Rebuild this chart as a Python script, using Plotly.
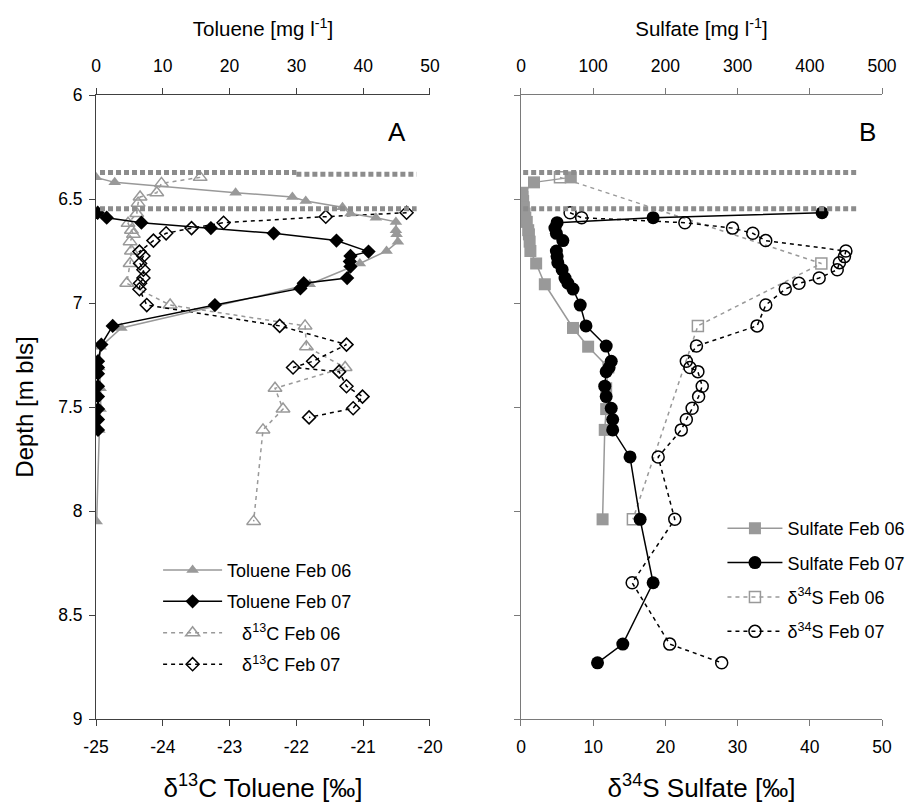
import plotly.graph_objects as go

# ---------------- Data ----------------
# Panel A: toluene concentration (mg/l, top axis) and delta13C (per mil, bottom axis) vs depth (m bls)
tol06_depth = [6.396, 6.42, 6.47, 6.49, 6.51, 6.54, 6.57, 6.59, 6.61, 6.65, 6.67, 6.705, 6.75, 6.81, 6.91,
               7.12, 7.21, 7.31, 7.41, 7.51, 7.61, 8.05]
tol06_conc = [0.0, 2.8, 20.9, 29.4, 31.4, 36.9, 38.1, 41.9, 44.9, 44.9, 45.0, 45.2, 43.5, 39.5, 32.0,
              3.8, 0.7, 0.5, 0.7, 0.7, 0.5, 0.1]

tol07_depth = [6.566, 6.59, 6.614, 6.64, 6.665, 6.70, 6.753, 6.774, 6.80, 6.825, 6.88, 6.905, 6.93, 7.01,
               7.11, 7.20, 7.28, 7.31, 7.34, 7.40, 7.45, 7.51, 7.56, 7.61]
tol07_conc = [0.25, 1.6, 6.8, 17.2, 26.6, 36.0, 40.8, 38.1, 38.0, 38.1, 37.6, 31.1, 30.6, 17.8,
              2.5, 0.8, 0.3, 0.3, 0.3, 0.3, 0.3, 0.3, 0.3, 0.3]

d13c06_depth = [6.396, 6.425, 6.47, 6.49, 6.52, 6.57, 6.617, 6.65, 6.67, 6.705, 6.75, 6.81, 6.905, 7.01,
                7.11, 7.21, 7.31, 7.41, 7.51, 7.61, 8.05]
d13c06_val = [-23.44, -24.02, -24.09, -24.34, -24.37, -24.39, -24.52, -24.47, -24.44, -24.49, -24.47, -24.49,
              -24.54, -23.89, -21.87, -21.85, -21.27, -22.32, -22.20, -22.50, -22.64]

d13c07_depth = [6.566, 6.585, 6.614, 6.64, 6.665, 6.70, 6.753, 6.774, 6.81, 6.84, 6.88, 6.905, 6.934, 7.01,
                7.11, 7.20, 7.28, 7.31, 7.33, 7.40, 7.45, 7.506, 7.55]
d13c07_val = [-20.35, -21.56, -23.09, -23.57, -23.95, -24.14, -24.35, -24.29, -24.34, -24.29, -24.29, -24.34,
              -24.35, -24.24, -22.25, -21.25, -21.75, -22.05, -21.36, -21.25, -21.01, -21.15, -21.81]

# Panel B: sulfate concentration (mg/l, top axis) and delta34S (per mil, bottom axis) vs depth
sul06_depth = [6.396, 6.42, 6.47, 6.49, 6.51, 6.54, 6.57, 6.59, 6.61, 6.65, 6.67, 6.705, 6.75, 6.81, 6.91,
               7.12, 7.21, 7.31, 7.41, 7.51, 7.61, 8.04]
sul06_conc = [69, 18, 2, 2, 3, 4, 5, 6, 8, 10, 11, 12, 13, 21, 33, 72, 93, 121, 118, 118, 116, 113]

d34s06_depth = [6.396, 6.81, 7.11, 8.04]
d34s06_val = [5.4, 41.6, 24.5, 15.5]

feb07_depth = [6.566, 6.59, 6.614, 6.64, 6.665, 6.70, 6.75, 6.777, 6.806, 6.84, 6.88, 6.905, 6.933, 7.01,
               7.11, 7.207, 7.28, 7.31, 7.33, 7.40, 7.45, 7.506, 7.56, 7.61, 7.74, 8.04, 8.345, 8.64, 8.73]
sul07_conc = [417, 183, 50, 47, 49, 58, 49, 50, 51, 57, 61, 65, 72, 82, 90, 118, 125, 122, 118, 116, 118,
              125, 127, 127, 151, 165, 183, 141, 106]
d34s07_val = [6.8, 8.4, 22.7, 29.3, 32.1, 33.9, 45.0, 44.8, 44.1, 43.8, 41.3, 38.5, 36.6, 33.9, 32.7, 24.3,
              22.9, 23.4, 24.5, 25.1, 24.6, 23.7, 22.9, 22.2, 19.0, 21.3, 15.4, 20.6, 27.8]

# horizontal gray dotted boundary lines (depths)
boundary_depths = [6.373, 6.547]

# tick labels
d13c_ticks = [-25, -24, -23, -22, -21, -20]
d13c_ticktext = ["-25", "-24", "-23", "-22", "-21", "-20"]
tol_ticks = [0, 10, 20, 30, 40, 50]
sul_ticks = [0, 100, 200, 300, 400, 500]
d34s_ticks = [0, 10, 20, 30, 40, 50]
depth_ticks = [6, 6.5, 7, 7.5, 8, 8.5, 9]

# ---------------- Styles ----------------
FONT = "Liberation Sans, Arial, sans-serif"
GRAY = "#999999"
AX_A = "#404040"
AX_B = "#7a7a7a"
TICK_FS = 17.5
BOTTOM_TITLE_FS = 26
Y_TITLE_FS = 24
TOP_TITLE_FS = 20.5
LEG_FS = 18

fig = go.Figure()

# Panel A traces
fig.add_trace(go.Scatter(x=tol06_conc, y=tol06_depth, xaxis="x2", yaxis="y", mode="lines+markers",
                         name="Toluene Feb 06", legend="legend", legendgroup="a1",
                         line=dict(color=GRAY, width=1.5),
                         marker=dict(symbol="triangle-up", size=11, color=GRAY)))
fig.add_trace(go.Scatter(x=tol07_conc, y=tol07_depth, xaxis="x2", yaxis="y", mode="lines+markers",
                         name="Toluene Feb 07", legend="legend", legendgroup="a2",
                         line=dict(color="black", width=1.5),
                         marker=dict(symbol="diamond", size=11, color="black")))
fig.add_trace(go.Scatter(x=d13c06_val, y=d13c06_depth, xaxis="x", yaxis="y", mode="lines+markers",
                         name="&nbsp;&nbsp;&nbsp;δ<sup>13</sup>C Feb 06", legend="legend", legendgroup="a3",
                         line=dict(color=GRAY, width=1.5, dash="4px,4px"),
                         marker=dict(symbol="triangle-up-open", size=12, color=GRAY, line=dict(width=1.5))))
fig.add_trace(go.Scatter(x=d13c07_val, y=d13c07_depth, xaxis="x", yaxis="y", mode="lines+markers",
                         name="&nbsp;&nbsp;&nbsp;δ<sup>13</sup>C Feb 07", legend="legend", legendgroup="a4",
                         line=dict(color="black", width=1.5, dash="4px,4px"),
                         marker=dict(symbol="diamond-open", size=10, color="black", line=dict(width=1.5))))

# Panel B traces
fig.add_trace(go.Scatter(x=sul06_conc, y=sul06_depth, xaxis="x4", yaxis="y2", mode="lines+markers",
                         name="Sulfate Feb 06", legend="legend2", legendgroup="b1",
                         line=dict(color=GRAY, width=1.5),
                         marker=dict(symbol="square", size=12, color=GRAY)))
fig.add_trace(go.Scatter(x=sul07_conc, y=feb07_depth, xaxis="x4", yaxis="y2", mode="lines+markers",
                         name="Sulfate Feb 07", legend="legend2", legendgroup="b2",
                         line=dict(color="black", width=1.5),
                         marker=dict(symbol="circle", size=13, color="black")))
fig.add_trace(go.Scatter(x=d34s06_val, y=d34s06_depth, xaxis="x3", yaxis="y2", mode="lines+markers",
                         name="δ<sup>34</sup>S Feb 06", legend="legend2", legendgroup="b3",
                         line=dict(color=GRAY, width=1.5, dash="4px,4px"),
                         marker=dict(symbol="square-open", size=11, color=GRAY, line=dict(width=1.5))))
fig.add_trace(go.Scatter(x=d34s07_val, y=feb07_depth, xaxis="x3", yaxis="y2", mode="lines+markers",
                         name="δ<sup>34</sup>S Feb 07", legend="legend2", legendgroup="b4",
                         line=dict(color="black", width=1.5, dash="4px,4px"),
                         marker=dict(symbol="circle-open", size=12, color="black", line=dict(width=1.5))))

# boundary dotted lines
dot_line = dict(color="#8c8c8c", width=5, dash="5px,3px")
shapes = [
    dict(type="line", xref="x2", yref="y", x0=0.6, x1=30, y0=boundary_depths[0], y1=boundary_depths[0], line=dot_line),
    dict(type="line", xref="x2", yref="y", x0=30, x1=48, y0=boundary_depths[0] + 0.008, y1=boundary_depths[0] + 0.008, line=dot_line),
    dict(type="line", xref="x2", yref="y", x0=0.6, x1=48, y0=boundary_depths[1], y1=boundary_depths[1], line=dot_line),
    dict(type="line", xref="x4", yref="y2", x0=3, x1=465, y0=boundary_depths[0], y1=boundary_depths[0], line=dot_line),
    dict(type="line", xref="x4", yref="y2", x0=3, x1=465, y0=boundary_depths[1], y1=boundary_depths[1], line=dot_line),
]

tickfont = dict(family=FONT, size=TICK_FS, color="black")
btitlefont = dict(family=FONT, size=BOTTOM_TITLE_FS, color="black")
ttitlefont = dict(family=FONT, size=TOP_TITLE_FS, color="black")

def xax(**kw):
    base = dict(showline=True, ticks="outside", ticklen=6, tickwidth=1, showgrid=False, zeroline=False,
                tickfont=tickfont, fixedrange=True, automargin=False)
    base.update(kw)
    return base

domA = [0, 0.4249]
domB = [0.5407, 1.0]

# page body has an 8px margin, so the figure is drawn 8px smaller and offset
fig.update_layout(
    width=914, height=795,
    margin=dict(l=88, r=40, t=87, b=84, autoexpand=False),
    paper_bgcolor="white", plot_bgcolor="white",
    font=dict(family=FONT, color="black"),
    xaxis=xax(domain=domA, anchor="y", side="bottom", range=[-25, -20], tickvals=d13c_ticks,
              ticktext=d13c_ticktext, linecolor=AX_A, tickcolor=AX_A, ticklabelstandoff=6,
              title=dict(text="δ<sup>13</sup>C Toluene [‰]", font=btitlefont, standoff=22)),
    xaxis2=xax(domain=domA, anchor="y", overlaying="x", side="top", range=[0, 50], tickvals=tol_ticks,
               linecolor=AX_A, tickcolor=AX_A, ticklabelstandoff=9,
               title=dict(text="Toluene [mg l<sup>-1</sup>]", font=ttitlefont, standoff=13)),
    yaxis=dict(domain=[0, 1], anchor="x", range=[9, 6], tickvals=depth_ticks, showline=True, linecolor=AX_A,
               ticks="outside", ticklen=6, tickcolor=AX_A, showgrid=False, zeroline=False, tickfont=tickfont,
               ticklabelstandoff=3, automargin=False,
               title=dict(text="Depth [m bls]", font=dict(family=FONT, size=Y_TITLE_FS, color="black"), standoff=17)),
    xaxis3=xax(domain=domB, anchor="y2", side="bottom", range=[0, 50], tickvals=d34s_ticks,
               linecolor=AX_B, tickcolor=AX_B, ticklabelstandoff=6,
               title=dict(text="δ<sup>34</sup>S Sulfate [‰]", font=btitlefont, standoff=22)),
    xaxis4=xax(domain=domB, anchor="y2", overlaying="x3", side="top", range=[0, 500], tickvals=sul_ticks,
               linecolor=AX_B, tickcolor=AX_B, ticklabelstandoff=9,
               title=dict(text="Sulfate [mg l<sup>-1</sup>]", font=ttitlefont, standoff=13)),
    yaxis2=dict(domain=[0, 1], anchor="x3", range=[9, 6], tickvals=depth_ticks, showticklabels=False,
                showline=True, linecolor=AX_B, ticks="outside", ticklen=6, tickcolor=AX_B, showgrid=False,
                zeroline=False, automargin=False),
    legend=dict(x=0.0790, y=0.268, xanchor="left", yanchor="top", bgcolor="rgba(0,0,0,0)",
                font=dict(family=FONT, size=LEG_FS, color="black"), tracegroupgap=5, itemwidth=59,
                traceorder="grouped"),
    legend2=dict(x=0.797, y=0.335, xanchor="left", yanchor="top", bgcolor="rgba(0,0,0,0)",
                 font=dict(family=FONT, size=LEG_FS, color="black"), tracegroupgap=8, itemwidth=55,
                 traceorder="grouped"),
    shapes=shapes,
    annotations=[
        dict(text="A", xref="x2", yref="y", x=45, y=6.18, showarrow=False,
             font=dict(family=FONT, size=26, color="black")),
        dict(text="B", xref="x4", yref="y2", x=480, y=6.18, showarrow=False,
             font=dict(family=FONT, size=26, color="black")),
    ],
    showlegend=True,
)

fig.write_html("out.html")
